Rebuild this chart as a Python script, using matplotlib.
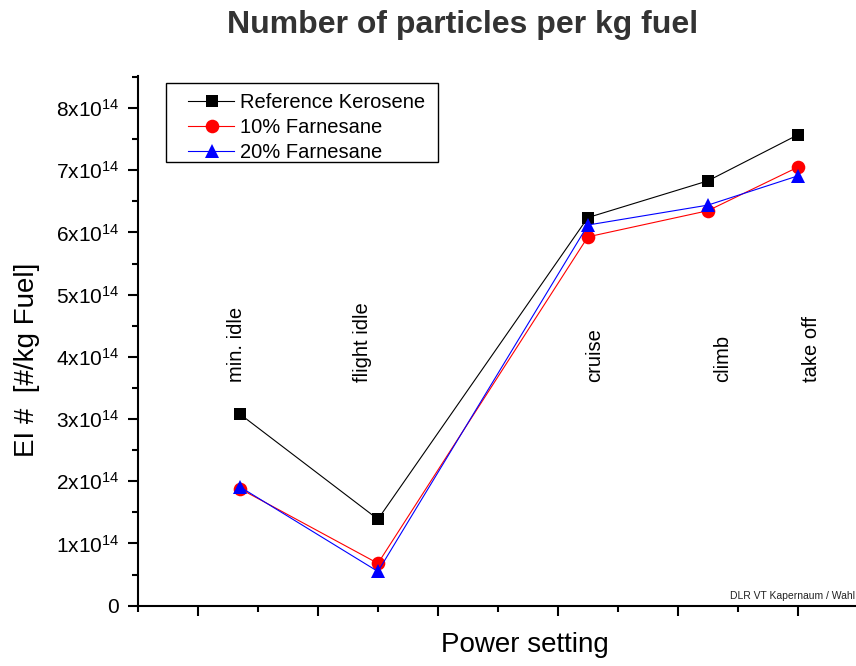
import matplotlib
matplotlib.use('Agg')
import matplotlib.pyplot as plt
from matplotlib.lines import Line2D
from matplotlib.patches import Rectangle
from matplotlib.ticker import MultipleLocator, FuncFormatter

plt.rcParams['font.family'] = ['Liberation Sans', 'DejaVu Sans']

# EI number per kg fuel for each power setting
power_settings = ['min. idle', 'flight idle', 'cruise', 'climb', 'take off']
setting_x = [0.7, 3.0, 6.5, 8.5, 10.0]
ref_kerosene = [3.08e14, 1.39e14, 6.24e14, 6.83e14, 7.57e14]
farnesane_10 = [1.88e14, 0.68e14, 5.93e14, 6.35e14, 7.05e14]
farnesane_20 = [1.91e14, 0.55e14, 6.12e14, 6.44e14, 6.91e14]
series_names = ['Reference Kerosene', '10% Farnesane', '20% Farnesane']

# where the rotated setting names sit
label_x = [0.65, 2.75, 6.62, 8.75, 10.22]
label_y = 3.6e14

W, H = 856, 666
fig = plt.figure(figsize=(W / 100, H / 100), dpi=100)
ax = fig.add_axes([138 / W, (H - 605.7) / H, 772 / W, 529.7 / H])

styles = [
    dict(color='black', marker='s', markersize=8.6),
    dict(color='red', marker='o', markersize=9.8),
    dict(color='blue', marker='^', markersize=10.5),
]
for ys, st in zip([ref_kerosene, farnesane_10, farnesane_20], styles):
    ax.plot(setting_x, ys, linewidth=0.8, markeredgewidth=0, clip_on=False, **st)

for name, lx in zip(power_settings, label_x):
    ax.text(lx, label_y, name, rotation=90, rotation_mode='anchor',
            ha='left', va='center', fontsize=14.5)

ax.set_xlim(-1, 11.87)
ax.set_ylim(0, 8.516e14)
ax.spines['top'].set_visible(False)
ax.spines['right'].set_visible(False)
for s in ['left', 'bottom']:
    ax.spines[s].set_linewidth(1.5)

ax.xaxis.set_major_locator(MultipleLocator(2))
ax.xaxis.set_minor_locator(MultipleLocator(1))
ax.yaxis.set_major_locator(MultipleLocator(1e14))
ax.yaxis.set_minor_locator(MultipleLocator(0.5e14))
ax.tick_params(which='both', direction='out', width=1.5)
ax.tick_params(which='major', length=7.5)
ax.tick_params(which='minor', length=4)
ax.tick_params(axis='x', labelbottom=False)
ax.tick_params(axis='y', labelsize=15, pad=6)


def sci_label(v, pos):
    n = int(round(v / 1e14))
    if n == 0:
        return '0'
    return r'$\mathregular{%dx10^{14}}$' % n


ax.yaxis.set_major_formatter(FuncFormatter(sci_label))

ax.set_xlabel('Power setting', fontsize=20)
ax.xaxis.set_label_coords(0.5006, -0.0497)
ax.set_ylabel('EI #  [#/kg Fuel]', fontsize=20)
ax.yaxis.set_label_coords(-0.127, 0.464)

fig.text(463 / W, 1 - 33 / H, 'Number of particles per kg fuel',
         ha='center', va='baseline', fontsize=23, fontweight='bold', color='#333333')
fig.text(730 / W, 1 - 596 / H, 'DLR VT Kapernaum / Wahl',
         ha='left', va='center', fontsize=7.5, color='#222222')

# legend box drawn by hand (Origin-style padding)
fig.add_artist(Rectangle((165.5 / W, 1 - 162 / H), (438.3 - 165.5) / W, (162 - 83) / H,
                         transform=fig.transFigure, facecolor='white',
                         edgecolor='black', linewidth=1.0))
for i, (name, st) in enumerate(zip(series_names, styles)):
    y = 1 - (100.7 + 25 * i) / H
    fig.add_artist(Line2D([188 / W, 211.5 / W, 234 / W], [y, y, y],
                          transform=fig.transFigure, linewidth=0.8,
                          markevery=[1], markeredgewidth=0, **st))
    fig.text(240 / W, y, name, ha='left', va='center_baseline', fontsize=14.5)

fig.savefig('out.png', dpi=100)
